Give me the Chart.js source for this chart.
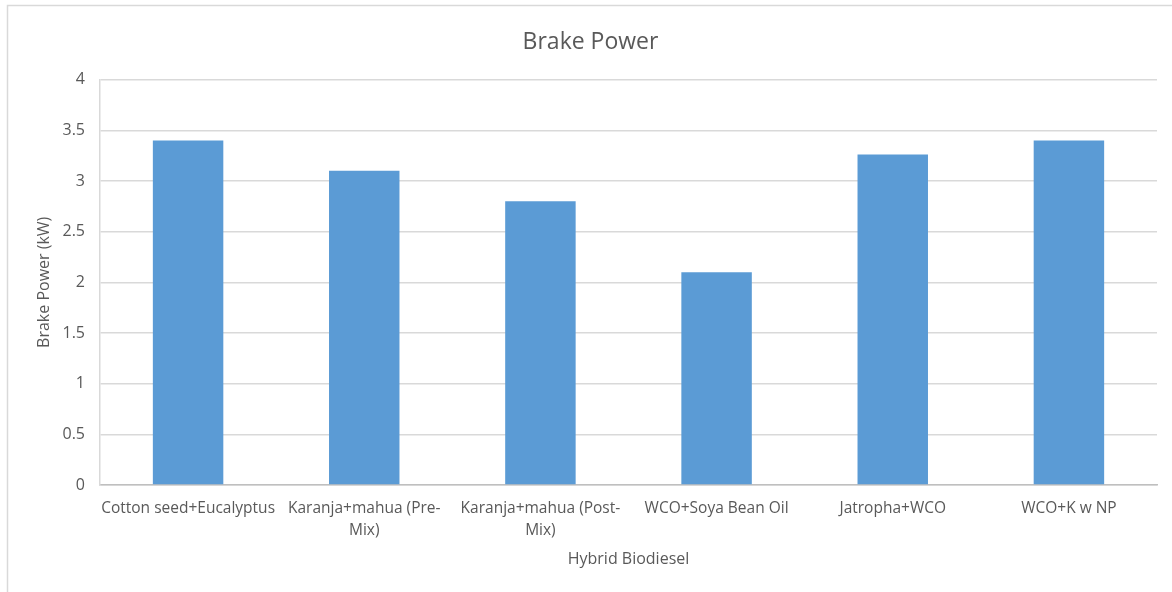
<!DOCTYPE html>
<html>
<head>
<meta charset="utf-8">
<script src="https://cdn.jsdelivr.net/npm/chart.js@4"></script>
<style>
  html, body { margin: 0; padding: 0; background: #fff; }
  #wrap { width: 1172px; height: 592px; position: relative; }
</style>
</head>
<body>
<div id="wrap"><canvas id="c" width="1172" height="592"></canvas></div>
<script>
// Fuel blends on the category axis (multi-line where the label wraps)
const categories = [
  'Cotton seed+Eucalyptus',
  ['Karanja+mahua (Pre-', 'Mix)'],
  ['Karanja+mahua (Post-', 'Mix)'],
  'WCO+Soya Bean Oil',
  'Jatropha+WCO',
  'WCO+K w NP'
];
// Brake power per blend, kW
const brakePower = [3.4, 3.1, 2.8, 2.1, 3.26, 3.4];
const yTicks = [0, 0.5, 1, 1.5, 2, 2.5, 3, 3.5, 4];

const textColor = '#595959';
const fontFamily = "'Open Sans', 'Liberation Sans', sans-serif";

// Light frame around the chart
const framePlugin = {
  id: 'frame',
  beforeDraw(chart) {
    const ctx = chart.ctx;
    ctx.save();
    ctx.fillStyle = '#fff';
    ctx.fillRect(0, 0, chart.width, chart.height);
    ctx.strokeStyle = '#d9d9d9';
    ctx.lineWidth = 1.5;
    ctx.strokeRect(7.5, 5.5, chart.width + 20, chart.height + 20);
    ctx.restore();
  }
};

new Chart(document.getElementById('c'), {
  type: 'bar',
  data: {
    labels: categories,
    datasets: [{
      label: 'Brake Power',
      data: brakePower,
      backgroundColor: '#5b9bd5',
      borderWidth: 0,
      categoryPercentage: 1,
      barPercentage: 0.4
    }]
  },
  options: {
    responsive: false,
    animation: false,
    layout: { padding: { left: 24, right: 15, top: 12, bottom: 14 } },
    plugins: {
      legend: { display: false },
      tooltip: { enabled: false },
      title: {
        display: true,
        text: 'Brake Power',
        color: textColor,
        font: { family: fontFamily, size: 23, weight: 'normal', lineHeight: 1.2 },
        padding: { top: 17, bottom: 23 }
      }
    },
    scales: {
      x: {
        afterFit(axis) { axis.height = 93; },
        grid: { display: false, drawTicks: false },
        border: { color: '#bfbfbf', width: 1.5 },
        ticks: {
          color: textColor,
          font: { family: fontFamily, size: 15.5, lineHeight: 1.4 },
          maxRotation: 0,
          autoSkip: false,
          padding: 13
        },
        title: {
          display: true,
          text: 'Hybrid Biodiesel',
          color: textColor,
          font: { family: fontFamily, size: 16, lineHeight: 1.2 },
          padding: { top: 5, bottom: 9 }
        }
      },
      y: {
        min: 0,
        max: 4,
        afterFit(axis) { axis.width = 76; },
        afterBuildTicks(axis) {
          axis.ticks = yTicks.map(v => ({ value: v }));
        },
        grid: { color: '#d9d9d9', lineWidth: 1.5, drawTicks: false },
        border: { display: true, color: '#d9d9d9', width: 1.5 },
        ticks: {
          color: textColor,
          font: { family: fontFamily, size: 16 },
          padding: 15,
          callback: (v) => String(v)
        },
        title: {
          display: true,
          text: 'Brake Power (kW)',
          color: textColor,
          font: { family: fontFamily, size: 16, lineHeight: 1.2 },
          padding: { top: 11, bottom: 6 }
        }
      }
    }
  },
  plugins: [framePlugin]
});
</script>
</body>
</html>
